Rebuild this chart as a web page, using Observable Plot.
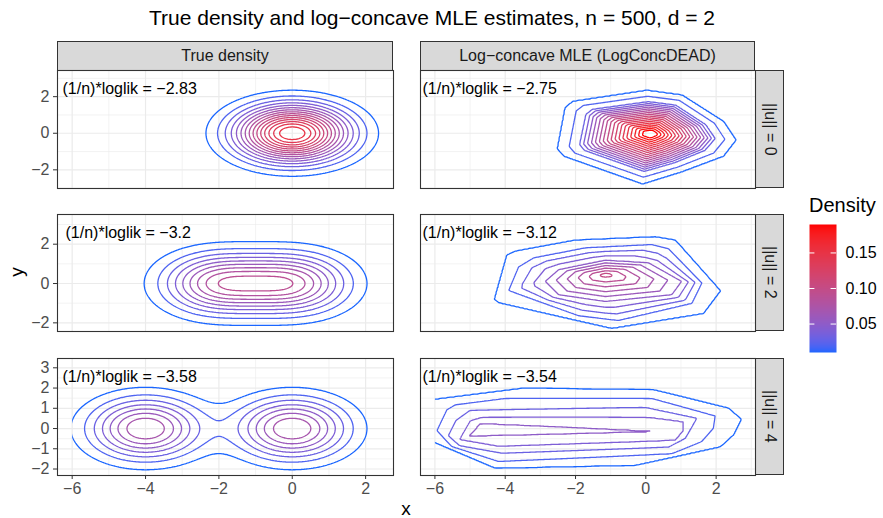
<!DOCTYPE html>
<html>
<head>
<meta charset="utf-8">
<script src="https://cdn.jsdelivr.net/npm/d3@7"></script>
<script src="https://cdn.jsdelivr.net/npm/@observablehq/plot@0.6"></script>
<style>
  body { margin: 0; background: #fff; font-family: "Liberation Sans", Arial, sans-serif; }
  #chart { position: relative; width: 883px; height: 518px; overflow: hidden; background: #fff; }
  .strip { position: absolute; box-sizing: border-box; background: #D9D9D9; border: 1px solid #333333;
           color: #1A1A1A; font-size: 16px; display: flex; align-items: center; justify-content: center; }
  .vstrip { writing-mode: vertical-rl; }
</style>
</head>
<body>
<div id="chart"></div>
<script>
// ---------------- data ----------------
const chartTitle = "True density and log\u2212concave MLE estimates, n = 500, d = 2";
const columnLabels = ["True density", "Log\u2212concave MLE (LogConcDEAD)"];
const rowLabels = ["||u|| = 0", "||u|| = 2", "||u|| = 4"];
const uNorm = [0, 2, 4];                 // distance between the two mixture components
const mixtureWeights = [0.5, 0.5];
const componentSd = 1;
const loglikTrue = [-2.83, -3.2, -3.58];
const loglikMLE = [-2.75, -3.12, -3.54];
const contourLevels = [0.01, 0.02, 0.03, 0.04, 0.05, 0.06, 0.07, 0.08, 0.09, 0.10,
                       0.11, 0.12, 0.13, 0.14, 0.15, 0.16, 0.17, 0.18, 0.19];
const gridXMin = -6;                     // left edge of the evaluation grid
const xTicks = [-6, -4, -2, 0, 2];
const xMinorByCol = [[-5, -3, -1, 1], [-5, -3, -1, 1, 3]];
const yTicksByRow = [[-2, 0, 2], [-2, 0, 2], [-2, -1, 0, 1, 2, 3]];
const yMinorByRow = [[-3, -1, 1, 3], [-1, 1, 3], [-1.5, -0.5, 0.5, 1.5, 2.5]];
const xDomains = [[-6.40, 2.76], [-6.41, 3.12]];
const yDomains = [[-3.02, 3.43], [-2.44, 3.51], [-2.32, 3.46]];
const legendTicks = [0.05, 0.10, 0.15];
const legendRange = [0.01, 0.19];

// Log-concave MLE estimates: contour rings ([x, y] vertices),
// outermost first, with the density level of each ring and the mode of the estimate.
// ||u|| = 0
const mleU0Ring01 = [[-2.29,1.40],[-2.08,1.73],[0.03,2.34],[1.03,2.08],[2.21,0.64],[2.56,-0.37],[2.21,-1.24],[1.03,-2.09],[-0.09,-2.76],[-2.33,-1.24],[-2.51,-0.84]];
const mleU0Ring02 = [[-1.98,1.22],[-1.78,1.52],[0.05,2.02],[0.95,1.80],[1.95,0.55],[2.25,-0.33],[1.93,-1.08],[0.92,-1.84],[-0.07,-2.40],[-2.02,-1.08],[-2.18,-0.72]];
const mleU0Ring03 = [[-1.70,1.03],[-1.52,1.30],[0.07,1.72],[0.85,1.53],[1.70,0.47],[1.97,-0.29],[1.68,-0.93],[0.82,-1.60],[-0.05,-2.08],[-1.74,-0.93],[-1.88,-0.62]];
const mleU0RingDensities = [0.01, 0.02, 0.03];
const mleU0Mode = [0.13, -0.03];
const mleU0ModeDensity = 0.21;
// ||u|| = 2
const mleU2Ring01 = [[-3.95,1.44],[-3.71,1.64],[-2.01,2.20],[0.27,2.37],[0.84,2.20],[2.12,-0.37],[1.64,-1.51],[-0.97,-2.27],[-4.19,-0.96],[-4.30,-0.79]];
const mleU2Ring02 = [[-3.62,0.84],[-3.19,1.30],[-1.72,1.81],[0.17,1.98],[0.65,1.76],[1.59,0.03],[1.31,-1.00],[-0.78,-1.88],[-1.91,-1.64],[-3.90,-0.35]];
const mleU2Ring05 = [[-2.86,0.11],[-2.48,0.70],[-1.15,1.18],[0.08,1.05],[1.02,0.11],[0.74,-0.57],[-1.15,-0.91],[-2.48,-0.57]];
const mleU2RingDensities = [0.01, 0.02, 0.05];
const mleU2Mode = [-1.15, 0.45];
const mleU2ModeDensity = 0.105;
// ||u|| = 4
const mleU4Ring01 = [[-6.30,1.37],[-3.48,1.99],[0.22,1.91],[2.35,1.00],[2.71,0.46],[2.49,-0.31],[2.12,-0.89],[-0.30,-1.81],[-4.28,-1.95],[-6.30,-0.46],[-6.45,0.45]];
const mleU4Ring02 = [[-5.94,-0.10],[-5.66,0.92],[-5.42,1.17],[-4.00,1.49],[0.17,1.49],[1.97,0.62],[1.92,0.01],[1.59,-0.64],[0.74,-1.25],[-4.19,-1.63],[-5.52,-0.89]];
const mleU4Ring03 = [[-5.62,-0.35],[-5.40,0.40],[-5.00,0.90],[-0.02,1.05],[1.45,0.51],[1.12,-0.48],[0.65,-0.92],[-4.09,-1.22],[-5.30,-0.85]];
const mleU4Ring04 = [[-5.30,-0.55],[-4.99,0.39],[-4.66,0.56],[0.08,0.56],[1.07,0.34],[1.07,-0.10],[0.84,-0.59],[-4.19,-0.88]];
const mleU4Ring05 = [[-5.04,-0.39],[-4.71,0.26],[0.50,-0.15]];
const mleU4RingDensities = [0.01, 0.02, 0.03, 0.04, 0.05];
const mleU4Mode = [-3.0, -0.05];
const mleU4ModeDensity = 0.052;

// ---------------- layout & style ----------------
const colorLow = "#1A66FF", colorHigh = "#FF0000";
const colX = [[57, 393], [420, 755]];
const rowY = [[70, 188], [214, 331], [358, 475]];
const annotDx = [[5, 2], [8, 2], [5, 2]];
const FONT = "'Liberation Sans', Arial, sans-serif";

const mleSets = [
  {rings: [mleU0Ring01, mleU0Ring02, mleU0Ring03], dens: mleU0RingDensities, mode: mleU0Mode, modeDensity: mleU0ModeDensity},
  {rings: [mleU2Ring01, mleU2Ring02, mleU2Ring05], dens: mleU2RingDensities, mode: mleU2Mode, modeDensity: mleU2ModeDensity},
  {rings: [mleU4Ring01, mleU4Ring02, mleU4Ring03, mleU4Ring04, mleU4Ring05], dens: mleU4RingDensities, mode: mleU4Mode, modeDensity: mleU4ModeDensity}
];

// distance from (cx,cy) along unit direction (ux,uy) to a ring polygon
function rayDistance(cx, cy, ux, uy, ring) {
  let best = 0;
  for (let i = 0; i < ring.length; i++) {
    const [ax, ay] = ring[i], [bx, by] = ring[(i + 1) % ring.length];
    const ex = bx - ax, ey = by - ay, wx = ax - cx, wy = ay - cy;
    const det = ex * uy - ux * ey;
    if (Math.abs(det) < 1e-12) continue;
    const s = (ex * wy - wx * ey) / det;
    const t = (ux * wy - uy * wx) / det;
    if (t >= -1e-9 && t <= 1 + 1e-9 && s > best) best = s;
  }
  return best;
}
// piecewise-linear surface through the read rings (tent-like, as the MLE is)
function mleDensity(r) {
  const {rings, dens, mode, modeDensity} = mleSets[r];
  const [cx, cy] = mode;
  return (x, y) => {
    const dx = x - cx, dy = y - cy, d = Math.hypot(dx, dy);
    if (d === 0) return modeDensity;
    const ux = dx / d, uy = dy / d;
    let prevD = 0, prevV = modeDensity;
    for (let i = rings.length - 1; i >= 0; i--) {
      const D = rayDistance(cx, cy, ux, uy, rings[i]);
      if (d <= D) return prevV + (dens[i] - prevV) * (d - prevD) / Math.max(D - prevD, 1e-9);
      prevD = D; prevV = dens[i];
    }
    return Math.max(0, prevV * (1 - (d - prevD) / prevD));
  };
}
function trueDensity(r) {
  const means = [[0, 0], [-uNorm[r], 0]];
  const s2 = componentSd * componentSd;
  return (x, y) => {
    let s = 0;
    for (let k = 0; k < means.length; k++) {
      const dx = x - means[k][0], dy = y - means[k][1];
      s += mixtureWeights[k] * Math.exp(-(dx * dx + dy * dy) / (2 * s2)) / (2 * Math.PI * s2);
    }
    return s;
  };
}
const fmtLoglik = v => "(1/n)*loglik = " + d3.format("")(v);

const chart = document.getElementById("chart");
function addDiv(text, css, cls) {
  const d = document.createElement("div");
  d.textContent = text;
  if (cls) d.className = cls;
  Object.assign(d.style, {position: "absolute", fontFamily: FONT}, css);
  chart.appendChild(d);
  return d;
}
const colorScale = {type: "linear", domain: legendRange, range: [colorLow, colorHigh], interpolate: "lab"};
let clipCounter = 0;

function makePanel(r, c) {
  const [fx0, fx1] = colX[c], [fy0, fy1] = rowY[r];
  const mL = c === 0 ? 57 : 2, mR = 2, mT = 2, mB = r === 2 ? 40 : 2;
  const width = fx1 - fx0 + mL + mR, height = fy1 - fy0 + mT + mB;
  const xd = xDomains[c], yd = yDomains[r];
  const contour = Plot.contour({value: c === 0 ? trueDensity(r) : mleDensity(r),
    x1: xd[0], x2: xd[1], y1: yd[0], y2: yd[1],
    thresholds: contourLevels, stroke: "value", fill: "none", strokeWidth: 1.3, pixelSize: 1});
  const marks = [
    Plot.gridX(xMinorByCol[c], {stroke: "#EBEBEB", strokeOpacity: 1, strokeWidth: 0.6}),
    Plot.gridY(yMinorByRow[r], {stroke: "#EBEBEB", strokeOpacity: 1, strokeWidth: 0.6}),
    Plot.gridX(xTicks, {stroke: "#EBEBEB", strokeOpacity: 1, strokeWidth: 1.2}),
    Plot.gridY(yTicksByRow[r], {stroke: "#EBEBEB", strokeOpacity: 1, strokeWidth: 1.2}),
    contour,
    Plot.frame({stroke: "#333333", strokeWidth: 1.1}),
    Plot.text([c === 0 ? loglikTrue[r] : loglikMLE[r]], {
      text: fmtLoglik, frameAnchor: "top-left", dx: annotDx[r][c], dy: 18,
      textAnchor: "start", lineAnchor: "middle", fontSize: 16, fill: "black"})
  ];
  if (c === 0) marks.push(Plot.axisY(yTicksByRow[r], {anchor: "left", tickSize: 4, tickPadding: 4,
    stroke: "#333333", fill: "#4D4D4D", fontSize: 16, label: null}));
  if (r === 2) marks.push(Plot.axisX(xTicks, {anchor: "bottom", tickSize: 4, tickPadding: 3,
    stroke: "#333333", fill: "#4D4D4D", fontSize: 16, label: null}));
  const svg = Plot.plot({
    width, height, marginLeft: mL, marginRight: mR, marginTop: mT, marginBottom: mB,
    x: {domain: xd, axis: null}, y: {domain: yd, axis: null},
    color: colorScale,
    style: {fontFamily: FONT, fontSize: "16px", background: "transparent", overflow: "visible"},
    marks
  });
  // the density grid starts at x = gridXMin: cut the contour lines there (open ends)
  const px = svg.scale("x").apply(gridXMin);
  const id = "gridclip" + (clipCounter++);
  const ns = "http://www.w3.org/2000/svg";
  const defs = document.createElementNS(ns, "defs");
  const cp = document.createElementNS(ns, "clipPath");
  cp.setAttribute("id", id);
  const rect = document.createElementNS(ns, "rect");
  rect.setAttribute("x", px); rect.setAttribute("y", 0);
  rect.setAttribute("width", width - px); rect.setAttribute("height", height);
  cp.appendChild(rect); defs.appendChild(cp); svg.insertBefore(defs, svg.firstChild);
  svg.querySelectorAll('g[aria-label="contour"]').forEach(g => g.setAttribute("clip-path", `url(#${id})`));
  Object.assign(svg.style, {position: "absolute", left: (fx0 - mL) + "px", top: (fy0 - mT) + "px", maxWidth: "none"});
  chart.appendChild(svg);
}

// title
addDiv(chartTitle, {left: "0px", width: "864px", top: "6px", textAlign: "center", fontSize: "21px", color: "#000", lineHeight: "24px"});
// column strips
columnLabels.forEach((lab, c) => addDiv(lab, {left: colX[c][0] + "px", top: "41px",
  width: (colX[c][1] - colX[c][0]) + "px", height: "30px"}, "strip"));
// row strips
rowLabels.forEach((lab, r) => addDiv(lab, {left: "755px", top: rowY[r][0] + "px", width: "29px",
  height: (rowY[r][1] - rowY[r][0]) + "px"}, "strip vstrip"));
// panels
for (let r = 0; r < 3; r++) for (let c = 0; c < 2; c++) makePanel(r, c);
// axis titles
addDiv("x", {left: "396px", width: "20px", top: "500px", textAlign: "center", fontSize: "19px", color: "#000", lineHeight: "17px"});
addDiv("y", {left: "6px", top: "261px", width: "22px", height: "22px", textAlign: "center", fontSize: "19px",
  color: "#000", lineHeight: "22px", transform: "rotate(-90deg)"});
// legend
addDiv("Density", {left: "809px", top: "193px", fontSize: "20px", color: "#000", lineHeight: "24px"});
const legend = Plot.plot({
  width: 27 + 50, height: 128 + 4, marginLeft: 0, marginRight: 50, marginTop: 2, marginBottom: 2,
  x: {domain: [0, 1], axis: null}, y: {domain: legendRange, axis: null},
  color: colorScale,
  style: {fontFamily: FONT, fontSize: "16px", background: "transparent", overflow: "visible"},
  marks: [
    Plot.raster({fill: (x, y) => y, x1: 0, x2: 1, y1: legendRange[0], y2: legendRange[1], pixelSize: 1}),
    Plot.ruleY(legendTicks, {y: d => d, x1: 0, x2: 0.2, stroke: "white", strokeWidth: 1}),
    Plot.ruleY(legendTicks, {y: d => d, x1: 0.8, x2: 1, stroke: "white", strokeWidth: 1}),
    Plot.axisY(legendTicks, {anchor: "right", tickSize: 0, tickPadding: 9, tickFormat: d3.format(".2f"),
      fontSize: 16, fill: "black", label: null})
  ]
});
Object.assign(legend.style, {position: "absolute", left: "809px", top: "222px", maxWidth: "none"});
chart.appendChild(legend);
</script>
</body>
</html>
